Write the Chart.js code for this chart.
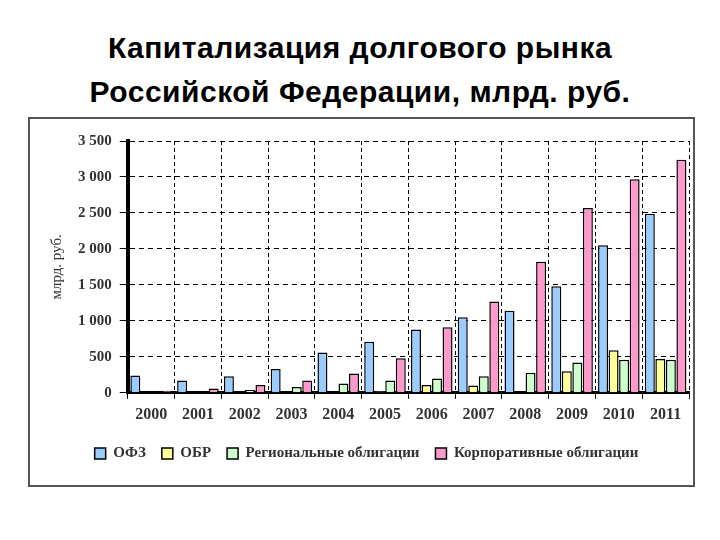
<!DOCTYPE html>
<html><head><meta charset="utf-8">
<script src="https://cdn.jsdelivr.net/npm/chart.js@4"></script>
<style>
body{margin:0;width:720px;height:540px;background:#fff;font-family:"Liberation Sans",Arial,sans-serif;}
h1{margin:0;position:absolute;top:26px;left:0;width:720px;text-align:center;font-size:30px;line-height:44px;font-weight:bold;color:#000;letter-spacing:0.5px;}
#box{position:absolute;left:28px;top:117px;width:667px;height:370px;border:2px solid #555;box-sizing:border-box;}
</style></head><body>
<h1>Капитализация долгового рынка<br>Российской Федерации, млрд. руб.</h1>
<div id="box"><canvas id="c" width="663" height="366"></canvas></div>
<script>
const categories=["2000","2001","2002","2003","2004","2005","2006","2007","2008","2009","2010","2011"];
const ofz=[240,170,230,330,560,710,880,1050,1140,1480,2050,2490];
const obr=[0,0,0,0,10,20,110,100,5,300,590,470];
const regional=[0,0,40,80,130,170,200,230,280,420,460,460];
const corporate=[30,60,110,170,270,480,910,1270,1820,2570,2970,3240];
const yTicks=[0,500,1000,1500,2000,2500,3000,3500];
const mk=(l,d,c)=>({label:l,data:d,backgroundColor:c,borderColor:'#000',borderWidth:1.5,categoryPercentage:0.9,barPercentage:0.95});
new Chart(document.getElementById('c'),{type:'bar',
data:{labels:categories,datasets:[mk('ОФЗ',ofz,'#99ccff'),mk('ОБР',obr,'#ffff99'),mk('Региональные облигации',regional,'#ccffcc'),mk('Корпоративные облигации',corporate,'#ff99cc')]},
options:{responsive:false,animation:false,layout:{padding:{left:14,right:4,top:22,bottom:14}},
plugins:{legend:{position:'bottom',labels:{boxWidth:11,boxHeight:11,font:{family:'Liberation Serif',size:15,weight:'bold'},color:'#333',padding:16}},tooltip:{enabled:false}},
scales:{x:{grid:{color:'#000',tickLength:6},border:{color:'#000',width:3,dash:[4,3]},ticks:{padding:6,font:{family:'Liberation Serif',size:16,weight:'bold'},color:'#333'}},
y:{min:0,max:3500,afterBuildTicks:a=>{a.ticks=yTicks.map(v=>({value:v}));},grid:{color:'#000'},border:{color:'#000',width:4,dash:[5,4]},
ticks:{padding:8,font:{family:'Liberation Serif',size:15,weight:'bold'},color:'#333',callback:v=>v.toLocaleString('ru-RU').replace(/\s/g,' ')},
title:{display:true,text:'млрд. руб.',font:{family:'Liberation Serif',size:15},color:'#333'}}}}});
</script></body></html>
